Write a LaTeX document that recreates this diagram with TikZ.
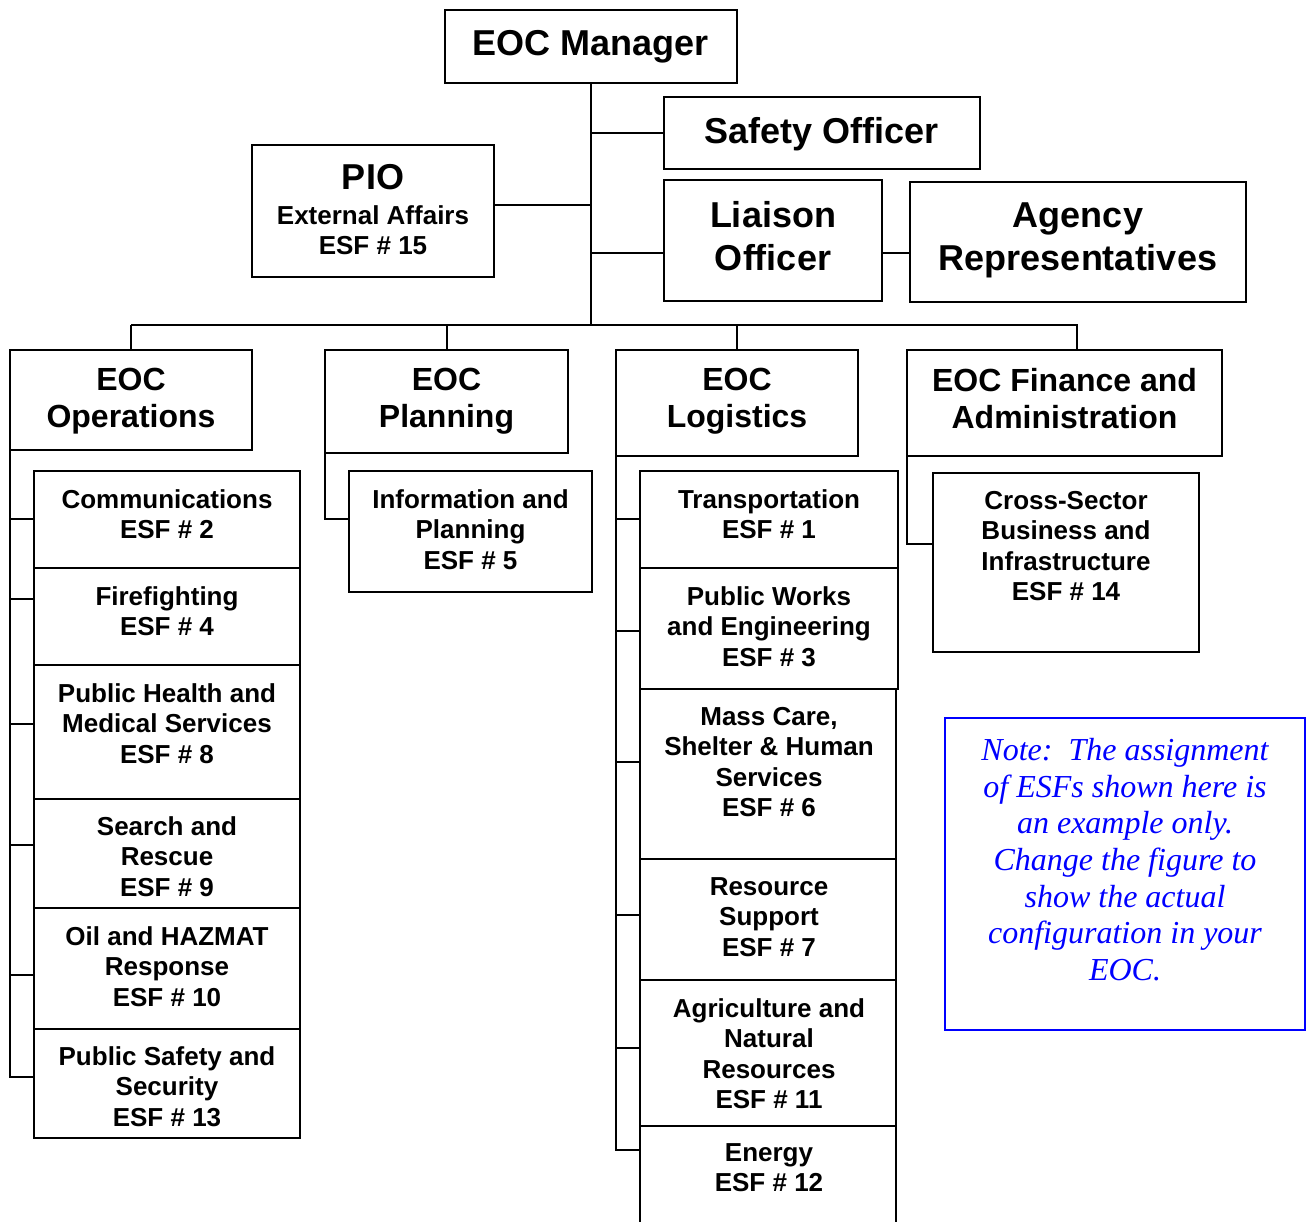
\documentclass[tikz,border=0pt]{standalone}
\usepackage{fontspec}
\setmainfont{Liberation Sans}
\newfontfamily\notefont{Liberation Serif}
\usetikzlibrary{fit}
\definecolor{noteblue}{RGB}{0,0,255}
\tikzset{
 box/.style={draw, line width=2pt, inner sep=0pt, outer sep=0pt},
 conn/.style={line width=2pt},
 big/.style={font=\bfseries\fontsize{36}{43}\selectfont, align=center, anchor=north, inner sep=0pt},
 sec/.style={font=\bfseries\fontsize{32}{37}\selectfont, align=center, anchor=north, inner sep=0pt},
 sub/.style={font=\bfseries\fontsize{26}{30.5}\selectfont, align=center, anchor=north, inner sep=0pt},
 notetext/.style={font=\notefont\itshape\fontsize{32}{36.7}\selectfont, text=noteblue, align=center, anchor=north, inner sep=0pt},
}
\begin{document}
\begin{tikzpicture}[x=1pt,y=-1pt]
\useasboundingbox (0,0) rectangle (1311,1222);
% boxes
\node[box, fit={(445,10) (737,83)}] (mgr) {};
\node[box, fit={(664,97) (980,169)}] (safety) {};
\node[box, fit={(252,145) (494,277)}] (pio) {};
\node[box, fit={(664,180) (882,301)}] (liaison) {};
\node[box, fit={(910,182) (1246,302)}] (agency) {};
\node[box, fit={(10,350) (252,450)}] (ops) {};
\node[box, fit={(325,350) (568,453)}] (plan) {};
\node[box, fit={(616,350) (858,456)}] (log) {};
\node[box, fit={(907,350) (1222,456)}] (fin) {};
\node[box, fit={(34,471) (300,568)}] (ops1) {};
\node[box, fit={(34,568) (300,665)}] (ops2) {};
\node[box, fit={(34,665) (300,799)}] (ops3) {};
\node[box, fit={(34,799) (300,908)}] (ops4) {};
\node[box, fit={(34,908) (300,1029)}] (ops5) {};
\node[box, fit={(34,1029) (300,1138)}] (ops6) {};
\node[box, fit={(349,471) (592,592)}] (plan1) {};
\node[box, fit={(640,471) (898,568)}] (log1) {};
\node[box, fit={(640,568) (898,689)}] (log2) {};
\node[box, fit={(640,689) (896,859)}] (log3) {};
\node[box, fit={(640,859) (896,980)}] (log4) {};
\node[box, fit={(640,980) (896,1126)}] (log5) {};
\node[box, fit={(640,1126) (896,1240)}] (log6) {};
\node[box, fit={(933,473) (1199,652)}] (fin1) {};
\node[box, draw=noteblue, fit={(945,718) (1305,1030)}] (note) {};
% texts
\node[big] (mgrt) at (591,30) {EOC Manager};
\node[big] (safetyt) at (822,117) {Safety Officer};
\node[big] (piot) at (373,164) {PIO};
\node[sub] (piot2) at (373,205) {External Affairs\\ESF \# 15};
\node[big] (liaisont) at (773,201) {Liaison\\Officer};
\node[big] (agencyt) at (1078,203) {Agency\\Representatives};
\node[sec] (opst) at (131,368) {EOC\\Operations};
\node[sec] (plant) at (446.5,368) {EOC\\Planning};
\node[sec] (logt) at (737,368) {EOC\\Logistics};
\node[sec] (fint) at (1064.5,368) {EOC Finance and\\Administration};
\node[sub] (ops1t) at (167,489) {Communications\\ESF \# 2};
\node[sub] (ops2t) at (167,586) {Firefighting\\ESF \# 4};
\node[sub] (ops3t) at (167,683) {Public Health and\\Medical Services\\ESF \# 8};
\node[sub] (ops4t) at (167,816) {Search and\\Rescue\\ESF \# 9};
\node[sub] (ops5t) at (167,926) {Oil and HAZMAT\\Response\\ESF \# 10};
\node[sub] (ops6t) at (167,1046) {Public Safety and\\Security\\ESF \# 13};
\node[sub] (plan1t) at (470.5,489) {Information and\\Planning\\ESF \# 5};
\node[sub] (log1t) at (769,489) {Transportation\\ESF \# 1};
\node[sub] (log2t) at (769,586) {Public Works\\and Engineering\\ESF \# 3};
\node[sub] (log3t) at (769,707) {Mass Care,\\Shelter \& Human\\Services\\ESF \# 6};
\node[sub] (log4t) at (769,877) {Resource\\Support\\ESF \# 7};
\node[sub] (log5t) at (769,998) {Agriculture and\\Natural\\Resources\\ESF \# 11};
\node[sub] (log6t) at (769,1143) {Energy\\ESF \# 12};
\node[sub] (fin1t) at (1066,491) {Cross-Sector\\Business and\\Infrastructure\\ESF \# 14};
\node[notetext] (notet) at (1125,738) {Note:\ \ The assignment\\of ESFs shown here is\\an example only.\\Change the figure to\\show the actual\\configuration in your\\EOC.};
% connectors
\coordinate (jbus) at (591,325);
\coordinate (jpio) at (591,205);
\coordinate (jli) at (591,253);
\draw[conn] (mgr.south) -- (jbus);
\draw[conn] (mgr.south |- safety.west) -- (safety.west);
\draw[conn] (jpio) -- (jpio -| pio.east);
\draw[conn] (jli) -- (jli -| liaison.west);
\draw[conn] (jli -| liaison.east) -- (jli -| agency.west);
\draw[conn] (ops.north |- jbus) -- (1077,325) -- (1077,350);
\draw[conn] (ops.north |- jbus) -- (ops.north);
\draw[conn] (446.5,325) -- (plan.north);
\draw[conn] (log.north |- jbus) -- (log.north);
% operations
\draw[conn] (ops.south west) -- (10,1077) -- (ops6.west |- 0,1077);
\draw[conn] (10,519) -- (ops1.west |- 0,519);
\draw[conn] (10,599) -- (ops2.west |- 0,599);
\draw[conn] (10,724) -- (ops3.west |- 0,724);
\draw[conn] (10,845) -- (ops4.west |- 0,845);
\draw[conn] (10,975) -- (ops5.west |- 0,975);
% planning
\draw[conn] (plan.south west) -- (325,519) -- (plan1.west |- 0,519);
% logistics
\draw[conn] (log.south west) -- (616,1150) -- (log6.west |- 0,1150);
\draw[conn] (616,519) -- (log1.west |- 0,519);
\draw[conn] (616,631) -- (log2.west |- 0,631);
\draw[conn] (616,762) -- (log3.west |- 0,762);
\draw[conn] (616,915) -- (log4.west |- 0,915);
\draw[conn] (616,1048) -- (log5.west |- 0,1048);
% finance
\draw[conn] (fin.south west) -- (907,544) -- (fin1.west |- 0,544);
\end{tikzpicture}
\end{document}
